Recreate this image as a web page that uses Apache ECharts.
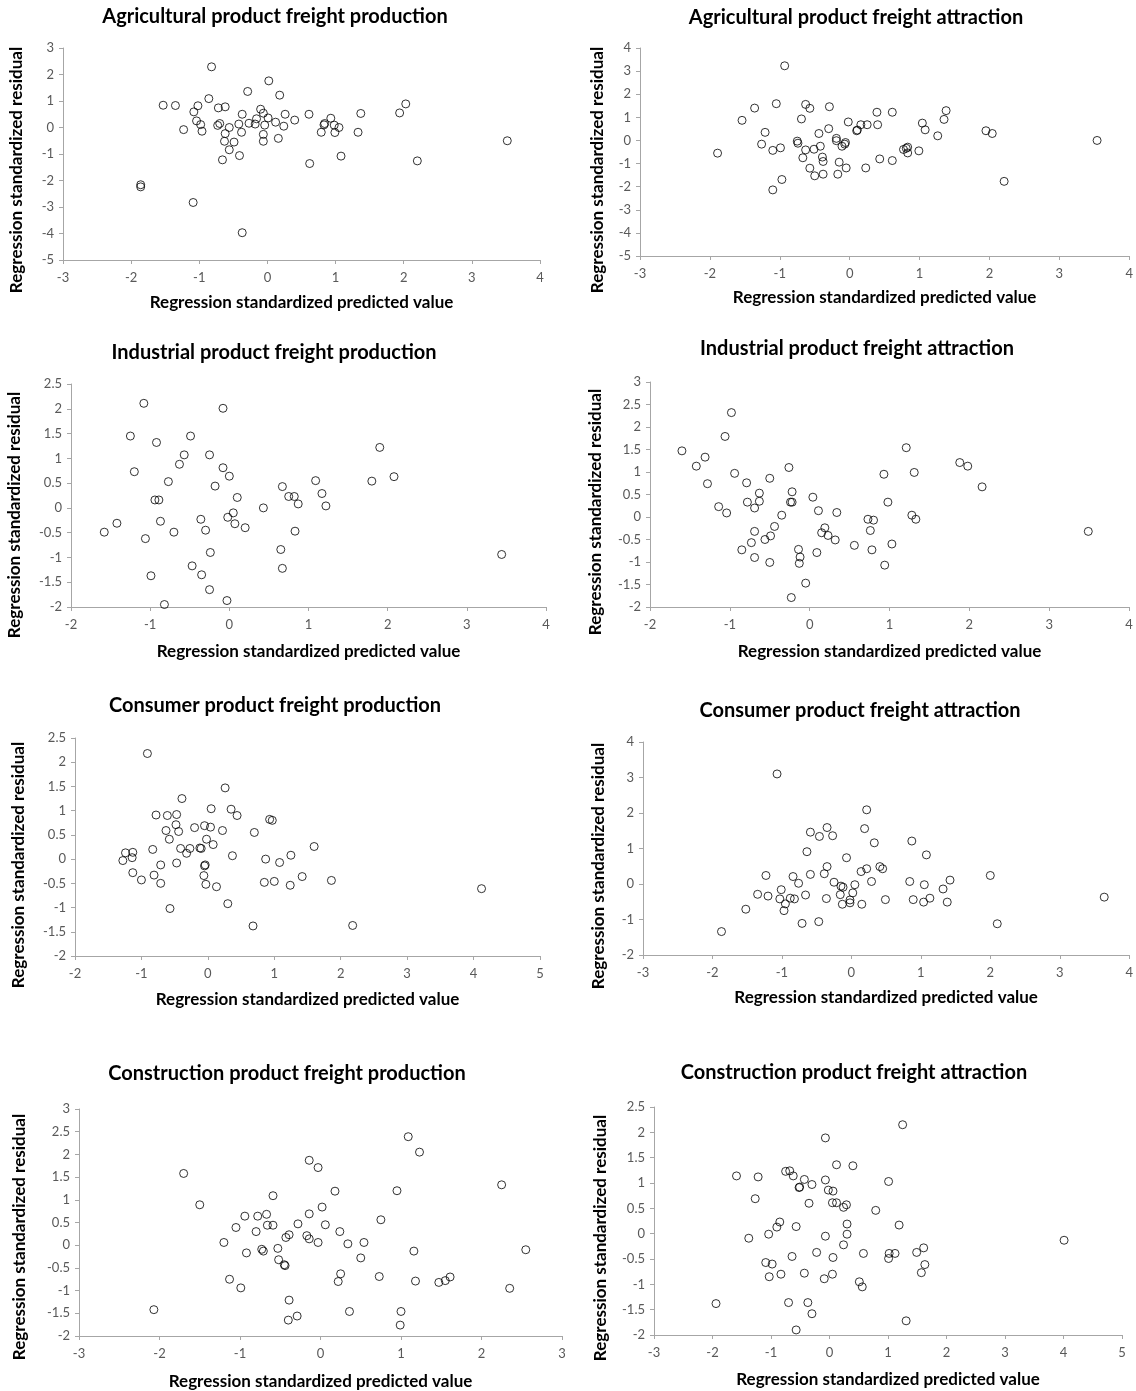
<!DOCTYPE html>
<html>
<head>
<meta charset="utf-8">
<script src="https://cdn.jsdelivr.net/npm/echarts@6/dist/echarts.min.js"></script>
<style>
html,body{margin:0;padding:0;background:#fff;}
#chart{width:1136px;height:1391px;}
</style>
</head>
<body>
<div id="chart"></div>
<script>
// ---------- DATA ----------
const panelTitles = [
  'Agricultural product freight production',
  'Agricultural product freight attraction',
  'Industrial product freight production',
  'Industrial product freight attraction',
  'Consumer product freight production',
  'Consumer product freight attraction',
  'Construction product freight production',
  'Construction product freight attraction'
];
const xAxisTitle = 'Regression standardized predicted value';
const yAxisTitle = 'Regression standardized residual';

// axis ranges: [xmin, xmax, xstep, ymin, ymax, ystep]
const axisRanges = [
  [-3, 4, 1, -5, 3, 1],
  [-3, 4, 1, -5, 4, 1],
  [-2, 4, 1, -2, 2.5, 0.5],
  [-2, 4, 1, -2, 3, 0.5],
  [-2, 5, 1, -2, 2.5, 0.5],
  [-3, 4, 1, -2, 4, 1],
  [-3, 3, 1, -2, 3, 0.5],
  [-3, 5, 1, -2, 2.5, 0.5]
];

const agriProd = [[-0.82,2.29],[0.02,1.76],[-0.29,1.36],[0.18,1.22],[-0.86,1.09],[-1.53,0.84],[-1.35,0.83],[-1.02,0.82],[-1.08,0.59],[-0.72,0.74],[-0.62,0.78],[-0.10,0.69],[-0.06,0.54],[-0.37,0.50],[0.26,0.50],[0.61,0.50],[1.37,0.53],[1.94,0.55],[2.03,0.89],[0.93,0.35],[0.40,0.28],[0.01,0.36],[-0.16,0.33],[0.12,0.20],[-1.04,0.25],[-0.98,0.11],[-0.73,0.08],[-0.70,0.15],[-0.42,0.13],[-0.27,0.16],[-0.18,0.13],[-0.04,0.09],[0.24,0.05],[0.84,0.15],[0.83,0.10],[0.98,0.09],[1.05,0.00],[-1.23,-0.08],[-0.96,-0.14],[-0.56,0.00],[-0.62,-0.23],[-0.38,-0.18],[0.79,-0.18],[0.99,-0.19],[1.33,-0.18],[-0.06,-0.26],[0.16,-0.41],[-0.63,-0.52],[-0.49,-0.55],[-0.06,-0.52],[-0.56,-0.84],[3.52,-0.50],[-0.41,-1.06],[-0.66,-1.22],[1.08,-1.08],[0.62,-1.36],[2.20,-1.26],[-1.86,-2.16],[-1.86,-2.24],[-1.09,-2.83],[-0.37,-3.97]];

const agriAttr = [[-0.93,3.23],[-1.05,1.59],[-0.63,1.56],[-0.57,1.39],[-0.29,1.46],[-1.36,1.40],[0.39,1.22],[0.61,1.22],[1.38,1.29],[1.35,0.91],[-1.54,0.87],[-0.69,0.93],[-0.02,0.80],[0.16,0.68],[0.25,0.68],[0.40,0.68],[1.04,0.75],[1.08,0.46],[-0.30,0.51],[0.10,0.42],[0.11,0.45],[1.95,0.42],[2.04,0.30],[1.26,0.20],[-1.21,0.35],[-0.44,0.30],[-0.19,0.09],[-0.19,-0.01],[-0.75,-0.03],[-0.74,-0.12],[-0.06,-0.09],[-0.07,-0.16],[-0.11,-0.25],[3.54,0.00],[-1.26,-0.16],[-0.99,-0.32],[-0.42,-0.25],[-1.10,-0.43],[-0.63,-0.41],[-0.51,-0.38],[-1.89,-0.55],[0.77,-0.39],[0.83,-0.29],[0.81,-0.34],[0.83,-0.54],[0.99,-0.45],[-0.67,-0.75],[-0.39,-0.72],[-0.38,-0.91],[-0.15,-0.94],[0.43,-0.80],[0.61,-0.87],[-0.57,-1.20],[-0.05,-1.19],[0.23,-1.19],[-0.50,-1.53],[-0.38,-1.46],[-0.17,-1.46],[-0.97,-1.69],[-1.10,-2.14],[2.21,-1.77]];

const indProd = [[-1.08,2.11],[-0.08,2.01],[-1.25,1.45],[-0.49,1.45],[-0.92,1.32],[1.90,1.22],[-0.57,1.07],[-0.25,1.07],[-0.63,0.88],[-0.08,0.81],[-1.20,0.73],[0.00,0.64],[2.08,0.63],[-0.77,0.53],[1.09,0.55],[1.80,0.54],[-0.18,0.44],[0.67,0.43],[1.17,0.29],[0.10,0.21],[0.75,0.23],[0.82,0.23],[-0.94,0.16],[-0.89,0.16],[0.87,0.08],[1.22,0.04],[0.43,0.00],[0.05,-0.10],[-0.02,-0.19],[-0.36,-0.23],[-0.87,-0.27],[0.07,-0.32],[-1.42,-0.31],[0.20,-0.40],[-0.30,-0.45],[-1.58,-0.49],[-0.70,-0.49],[0.83,-0.47],[-1.06,-0.62],[0.65,-0.84],[-0.24,-0.90],[3.44,-0.94],[-0.47,-1.17],[0.67,-1.22],[-0.99,-1.37],[-0.35,-1.35],[-0.25,-1.65],[-0.03,-1.87],[-0.82,-1.95]];

const indAttr = [[-0.98,2.32],[-1.06,1.79],[-1.60,1.47],[1.21,1.54],[-1.31,1.33],[-1.42,1.13],[-0.26,1.10],[1.88,1.21],[1.98,1.13],[-0.94,0.97],[0.93,0.95],[1.31,0.99],[-0.50,0.86],[-0.79,0.76],[-1.28,0.74],[2.16,0.67],[-0.63,0.53],[-0.22,0.56],[0.04,0.44],[-0.78,0.33],[-0.63,0.35],[-0.24,0.33],[-0.22,0.33],[0.98,0.33],[-1.14,0.23],[-0.69,0.20],[-1.04,0.09],[0.11,0.14],[0.34,0.10],[-0.35,0.04],[1.28,0.04],[0.73,-0.05],[0.80,-0.07],[1.33,-0.05],[-0.44,-0.21],[0.19,-0.24],[-0.69,-0.32],[0.15,-0.35],[0.23,-0.41],[0.76,-0.30],[3.49,-0.32],[-0.49,-0.42],[-0.56,-0.50],[-0.73,-0.57],[0.32,-0.51],[0.56,-0.63],[1.03,-0.60],[-0.85,-0.73],[-0.14,-0.72],[0.78,-0.73],[0.09,-0.79],[-0.12,-0.89],[-0.69,-0.90],[-0.50,-1.01],[-0.13,-1.03],[0.94,-1.07],[-0.05,-1.47],[-0.23,-1.79]];

const consProd = [[-0.91,2.18],[0.26,1.47],[-0.39,1.25],[0.05,1.04],[0.35,1.03],[-0.78,0.91],[-0.61,0.90],[-0.47,0.92],[0.44,0.90],[0.93,0.82],[0.97,0.80],[-0.48,0.71],[-0.20,0.65],[-0.05,0.69],[0.04,0.66],[-0.63,0.59],[-0.44,0.57],[0.22,0.59],[0.70,0.55],[-0.58,0.41],[-0.02,0.41],[0.08,0.30],[-0.41,0.22],[-0.27,0.22],[-0.12,0.23],[-0.10,0.22],[1.60,0.26],[-0.83,0.20],[-0.32,0.12],[-1.24,0.13],[-1.13,0.14],[-1.14,0.03],[-1.28,-0.03],[0.37,0.07],[1.25,0.08],[0.87,0.00],[1.08,-0.07],[-0.47,-0.08],[-0.71,-0.12],[-0.04,-0.12],[-0.05,-0.14],[-1.13,-0.28],[-0.81,-0.33],[-0.06,-0.34],[-1.00,-0.43],[1.42,-0.36],[1.86,-0.44],[-0.71,-0.50],[-0.03,-0.52],[0.85,-0.48],[1.00,-0.46],[1.24,-0.54],[0.13,-0.57],[4.12,-0.61],[0.30,-0.92],[-0.57,-1.02],[0.68,-1.38],[2.18,-1.37]];

const consAttr = [[-1.07,3.10],[0.22,2.09],[-0.35,1.59],[0.19,1.56],[-0.59,1.46],[-0.46,1.34],[-0.27,1.36],[0.87,1.21],[0.33,1.16],[-0.64,0.91],[1.08,0.82],[-0.07,0.74],[-0.35,0.49],[0.41,0.49],[0.45,0.43],[0.22,0.43],[0.14,0.35],[-0.39,0.29],[-0.59,0.27],[-1.23,0.24],[-0.84,0.21],[2.00,0.24],[1.42,0.11],[0.29,0.07],[0.84,0.07],[-0.25,0.05],[-0.76,0.02],[0.05,-0.02],[1.05,-0.02],[-0.15,-0.06],[-0.12,-0.09],[-1.01,-0.16],[1.32,-0.14],[0.02,-0.25],[-1.35,-0.29],[-0.16,-0.30],[-0.66,-0.31],[-1.20,-0.34],[3.64,-0.37],[-0.88,-0.40],[-0.82,-0.42],[-1.03,-0.42],[-0.36,-0.41],[1.13,-0.40],[0.49,-0.44],[0.89,-0.44],[-0.02,-0.45],[-0.02,-0.53],[1.04,-0.51],[1.38,-0.51],[-0.95,-0.56],[-0.13,-0.57],[0.15,-0.57],[-0.97,-0.75],[-1.52,-0.71],[-0.71,-1.11],[-0.47,-1.06],[2.10,-1.12],[-1.87,-1.34]];

const constProd = [[1.09,2.39],[1.23,2.05],[-0.14,1.87],[-0.03,1.71],[-1.70,1.58],[2.25,1.33],[0.18,1.19],[0.95,1.20],[-0.59,1.09],[-1.50,0.89],[0.02,0.84],[-0.94,0.64],[-0.78,0.64],[-0.67,0.68],[-0.14,0.69],[0.75,0.56],[-1.05,0.39],[-0.66,0.44],[-0.59,0.44],[-0.28,0.47],[0.06,0.45],[-0.80,0.30],[0.24,0.30],[-0.39,0.23],[-0.43,0.17],[-0.17,0.21],[-0.14,0.14],[-1.20,0.06],[-0.03,0.06],[0.34,0.03],[0.54,0.06],[-0.73,-0.09],[-0.71,-0.13],[-0.53,-0.07],[-0.92,-0.17],[1.16,-0.13],[2.55,-0.10],[0.50,-0.28],[-0.52,-0.32],[-0.45,-0.43],[-0.44,-0.45],[0.25,-0.63],[-1.13,-0.75],[0.73,-0.69],[0.22,-0.80],[1.18,-0.79],[1.47,-0.82],[1.55,-0.78],[1.61,-0.70],[-0.99,-0.94],[2.35,-0.95],[-0.39,-1.21],[-2.07,-1.42],[0.36,-1.46],[1.00,-1.46],[-0.29,-1.56],[-0.40,-1.65],[0.99,-1.76]];

const constAttr = [[1.25,2.15],[-0.07,1.89],[0.12,1.36],[0.40,1.34],[-0.68,1.24],[-0.75,1.23],[-1.59,1.14],[-1.22,1.12],[-0.62,1.14],[-0.43,1.07],[-0.07,1.06],[1.01,1.03],[-0.30,0.97],[-0.52,0.91],[-0.51,0.92],[-0.02,0.86],[0.06,0.84],[-1.27,0.69],[-0.35,0.60],[0.05,0.61],[0.12,0.61],[0.24,0.52],[0.29,0.57],[0.79,0.46],[-0.85,0.23],[-0.90,0.13],[-0.57,0.14],[0.30,0.19],[1.19,0.17],[-1.04,-0.01],[0.30,-0.01],[-0.07,-0.05],[-1.38,-0.09],[4.01,-0.13],[0.24,-0.22],[1.61,-0.28],[-0.22,-0.37],[0.58,-0.39],[1.02,-0.39],[1.12,-0.39],[1.49,-0.37],[-0.64,-0.45],[0.06,-0.47],[1.01,-0.49],[-1.09,-0.57],[-0.98,-0.60],[1.63,-0.61],[-0.83,-0.80],[-0.43,-0.78],[0.05,-0.80],[1.57,-0.77],[-1.03,-0.85],[-0.09,-0.89],[0.51,-0.95],[0.56,-1.05],[-1.94,-1.38],[-0.70,-1.36],[-0.37,-1.36],[-0.30,-1.58],[1.31,-1.72],[-0.57,-1.90]];

const panelData = [agriProd, agriAttr, indProd, indAttr, consProd, consAttr, constProd, constAttr];

// ---------- LAYOUT (pixels) ----------
const plotBoxes = [
  [63, 48, 477, 212],
  [640, 48, 491, 208],
  [71, 384, 475, 223],
  [650, 382, 479, 225],
  [75, 738, 465, 218],
  [643, 742, 489, 213],
  [79, 1109, 483, 227],
  [654, 1107, 468, 228]
];
const titleCentres = [[275,17],[856,18],[274,353],[857,349],[275,706],[860,711],[287,1074],[854,1073]];
const yNameCentres = [[17,170],[598,170],[15,515],[596,512],[19,865],[599,866],[20,1237],[601,1238]];
const xNameGaps = [34,33,36,36,35,34,37,36];

const FONT = 'Lato, "Open Sans", "DejaVu Sans", sans-serif';
const axisGray = '#a6a6a6';

const grids = [], xAxes = [], yAxes = [], series = [], titles = [], graphics = [];
panelData.forEach((pts, i) => {
  const b = plotBoxes[i];
  const r = axisRanges[i];
  grids.push({left: b[0], top: b[1], width: b[2], height: b[3], containLabel: false});
  xAxes.push({
    type: 'value', gridIndex: i, min: r[0], max: r[1], interval: r[2],
    axisLine: {show: true, onZero: false, lineStyle: {color: axisGray, width: 1}},
    axisTick: {show: true, length: 4, inside: false, lineStyle: {color: axisGray}},
    splitLine: {show: false},
    axisLabel: {color: '#595959', fontSize: 13, margin: 11, fontFamily: FONT, showMinLabel: true, showMaxLabel: true},
    name: xAxisTitle, nameLocation: 'middle', nameGap: xNameGaps[i],
    nameTextStyle: {fontWeight: 'bold', fontSize: 17, color: '#000', fontFamily: FONT}
  });
  yAxes.push({
    type: 'value', gridIndex: i, min: r[3], max: r[4], interval: r[5],
    axisLine: {show: true, onZero: false, lineStyle: {color: axisGray, width: 1}},
    axisTick: {show: true, length: 4, inside: false, lineStyle: {color: axisGray}},
    splitLine: {show: false},
    axisLabel: {color: '#595959', fontSize: 13, margin: 9, fontFamily: FONT, showMinLabel: true, showMaxLabel: true}
  });
  series.push({
    type: 'scatter', xAxisIndex: i, yAxisIndex: i, data: pts,
    symbol: 'circle', symbolSize: 8,
    itemStyle: {color: 'rgba(255,255,255,0)', borderColor: '#000', borderWidth: 1},
    emphasis: {disabled: true}, silent: true
  });
  titles.push({
    text: panelTitles[i], left: titleCentres[i][0], top: titleCentres[i][1] - 10, textAlign: 'center',
    padding: 0,
    textStyle: {fontSize: 20, fontWeight: 'bold', color: '#000', fontFamily: FONT}
  });
  graphics.push({
    type: 'text', x: yNameCentres[i][0], y: yNameCentres[i][1], rotation: Math.PI / 2,
    style: {text: yAxisTitle, fontSize: 17, fontWeight: 'bold', fill: '#000', fontFamily: FONT,
            textAlign: 'center', textVerticalAlign: 'middle'}
  });
});

const chart = echarts.init(document.getElementById('chart'), null, {renderer: 'canvas'});
chart.setOption({
  backgroundColor: '#fff',
  animation: false,
  title: titles,
  grid: grids,
  xAxis: xAxes,
  yAxis: yAxes,
  series: series,
  graphic: graphics
});
</script>
</body>
</html>
